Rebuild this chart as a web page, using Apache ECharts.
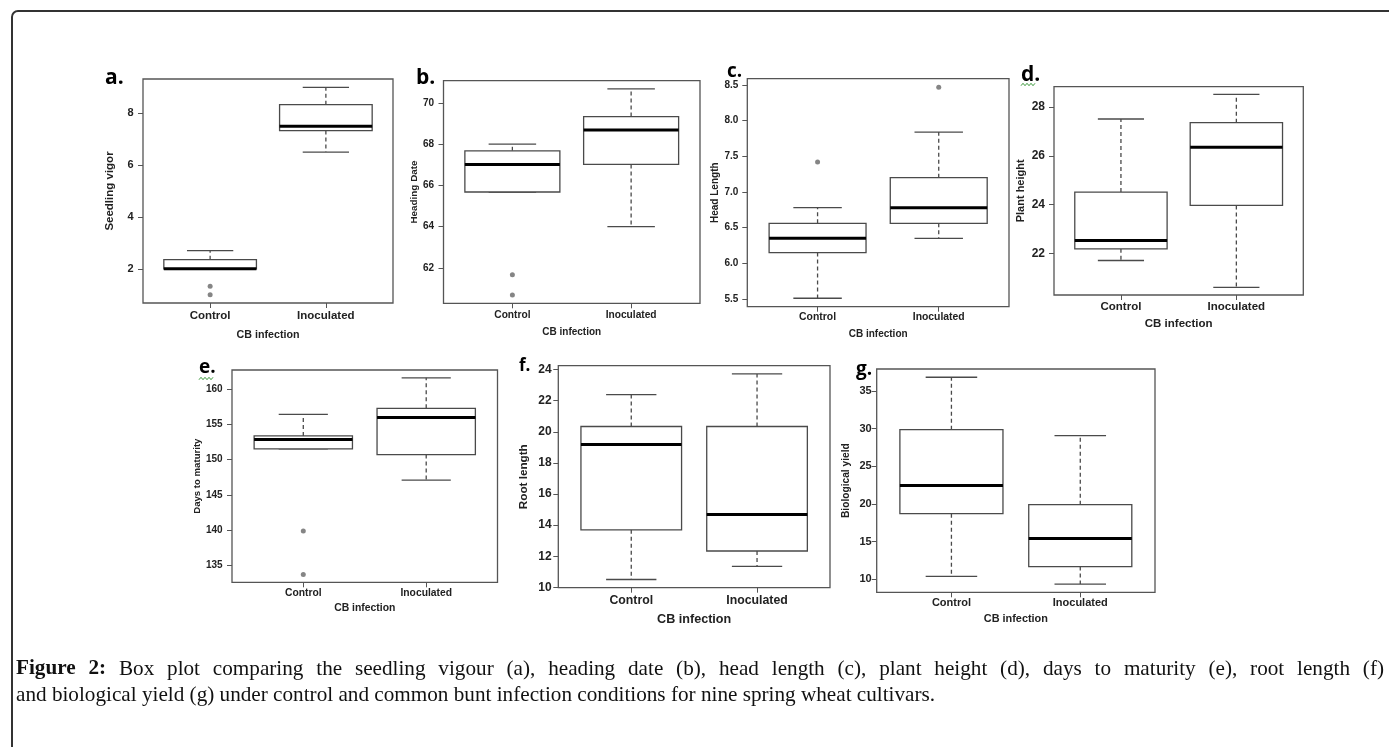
<!DOCTYPE html>
<html>
<head>
<meta charset="utf-8">
<script src="https://cdn.jsdelivr.net/npm/echarts@6/dist/echarts.min.js"></script>
<style>
  html, body { margin: 0; padding: 0; background: #fff; }
  #main { width: 1389px; height: 747px; }
</style>
</head>
<body>
<div id="main"></div>
<script>
// groups on the x axis of every panel
var groups = ["Control", "Inoculated"];

// box summaries per group: [lower whisker, Q1, median, Q3, upper whisker]
var vigorBox = [[2.0, 2.0, 2.0, 2.35, 2.7], [6.5, 7.33, 7.5, 8.33, 9.0]];
var vigorOut = [[1.33, 1.0], []];
var vigorTicks = [2, 4, 6, 8];

var headingBox = [[65.68, 65.68, 67.02, 67.68, 68.0], [64.0, 67.02, 68.69, 69.34, 70.68]];
var headingOut = [[61.66, 60.68], []];
var headingTicks = [62, 64, 66, 68, 70];

var headLenBox = [[5.51, 6.15, 6.35, 6.56, 6.78], [6.35, 6.56, 6.78, 7.2, 7.84]];
var headLenOut = [[7.42], [8.47]];
var headLenTicks = [5.5, 6.0, 6.5, 7.0, 7.5, 8.0, 8.5];

var heightBox = [[21.7, 22.18, 22.52, 24.51, 27.51], [20.6, 23.96, 26.35, 27.36, 28.52]];
var heightOut = [[], []];
var heightTicks = [22, 24, 26, 28];

var maturityBox = [[151.5, 151.5, 152.83, 153.34, 156.38], [147.07, 150.7, 155.96, 157.24, 161.56]];
var maturityOut = [[139.86, 133.72], []];
var maturityTicks = [135, 140, 145, 150, 155, 160];

var rootBox = [[10.51, 13.7, 19.18, 20.34, 22.39], [11.35, 12.34, 14.69, 20.34, 23.72]];
var rootOut = [[], []];
var rootTicks = [10, 12, 14, 16, 18, 20, 22, 24];

var yieldBox = [[10.4, 18.72, 22.46, 29.87, 36.83], [9.38, 11.7, 15.44, 19.92, 29.07]];
var yieldOut = [[], []];
var yieldTicks = [10, 15, 20, 25, 30, 35];

var yTitles = ["Seedling vigor", "Heading Date", "Head Length", "Plant height",
               "Days to maturity", "Root length", "Biological yield"];
var xTitle = "CB infection";
var tags = ["a.", "b.", "c.", "d.", "e.", "f.", "g."];

var captionLead = "Figure 2:";
var caption1 = "Box plot comparing the seedling vigour (a), heading date (b), head length (c), plant height (d), days to maturity (e), root length (f)";
var caption2 = "and biological yield (g) under control and common bunt infection conditions for nine spring wheat cultivars.";

// layout of each panel (pixels)
var layout = [
  { L: 143, T: 79, R: 393, B: 303, fs: 11.5, yfs: 11, nfs: 11.5, xnfs: 10.7, xLab: 316, yMar: 9.5, yName: 110, xName: 335, dec: 0, tx: 105, ty: 80, tfs: 21 },
  { L: 443.5, T: 80.7, R: 700, B: 303.3, fs: 10.2, yfs: 10, nfs: 9.9, xnfs: 10, xLab: 315, yMar: 9.5, yName: 414, xName: 332, dec: 0, tx: 416, ty: 80.5, tfs: 21 },
  { L: 747.3, T: 78.7, R: 1009, B: 306.7, fs: 10.4, yfs: 10, nfs: 10, xnfs: 10, xLab: 317.7, yMar: 9, yName: 717.7, xName: 334, dec: 1, tx: 727, ty: 74, tfs: 19 },
  { L: 1054, T: 86.7, R: 1303.3, B: 295, fs: 11.5, yfs: 12, nfs: 11, xnfs: 11.5, xLab: 306.7, yMar: 9, yName: 1021, xName: 324, dec: 0, tx: 1021, ty: 77, tfs: 21 },
  { L: 232, T: 370, R: 497.5, B: 582.3, fs: 10.3, yfs: 10, nfs: 9.6, xnfs: 10.4, xLab: 593, yMar: 9.4, yName: 202.7, xName: 608.7, dec: 0, tx: 199, ty: 370, tfs: 19 },
  { L: 558.3, T: 365.7, R: 830, B: 587.7, fs: 12.3, yfs: 12, nfs: 11.7, xnfs: 12.6, xLab: 600.7, yMar: 6.6, yName: 524, xName: 619.3, dec: 0, tx: 519, ty: 368, tfs: 17 },
  { L: 876.7, T: 369, R: 1155, B: 592.3, fs: 11, yfs: 11, nfs: 10.2, xnfs: 10.9, xLab: 603.3, yMar: 5, yName: 845.7, xName: 619.3, dec: 0, tx: 856, ty: 372, tfs: 19 }
];

var boxes = [vigorBox, headingBox, headLenBox, heightBox, maturityBox, rootBox, yieldBox];
var outs = [vigorOut, headingOut, headLenOut, heightOut, maturityOut, rootOut, yieldOut];
var ticks = [vigorTicks, headingTicks, headLenTicks, heightTicks, maturityTicks, rootTicks, yieldTicks];

var SANS = '"Liberation Sans", Arial, sans-serif';
var TXT = "#222";
var LINE = "#4a4a4a";

function renderBox(params, api) {
  var x = api.value(0);
  var lo = api.value(1), q1 = api.value(2), med = api.value(3), q3 = api.value(4), hi = api.value(5);
  var half = api.size([0.4, 0])[0];
  var cap = api.size([0.2, 0])[0];
  var cx = api.coord([x, med])[0];
  var yLo = api.coord([x, lo])[1];
  var yQ1 = api.coord([x, q1])[1];
  var yMed = api.coord([x, med])[1];
  var yQ3 = api.coord([x, q3])[1];
  var yHi = api.coord([x, hi])[1];
  var dash = { stroke: LINE, lineWidth: 1.3, lineDash: [4, 3] };
  var solid = { stroke: LINE, lineWidth: 1.3 };
  function seg(x1, y1, x2, y2, st) {
    return { type: "line", shape: { x1: x1, y1: y1, x2: x2, y2: y2 }, style: st };
  }
  return {
    type: "group",
    children: [
      seg(cx, yQ3, cx, yHi, dash),
      seg(cx, yQ1, cx, yLo, dash),
      seg(cx - cap, yHi, cx + cap, yHi, solid),
      seg(cx - cap, yLo, cx + cap, yLo, solid),
      { type: "rect", shape: { x: cx - half, y: yQ3, width: 2 * half, height: yQ1 - yQ3 },
        style: { fill: "#fff", stroke: LINE, lineWidth: 1.3 } },
      seg(cx - half, yMed, cx + half, yMed, { stroke: "#000", lineWidth: 3 })
    ]
  };
}

var grids = [], xAxes = [], yAxes = [], series = [], graphics = [];

layout.forEach(function (p, i) {
  var box = boxes[i];
  var all = [];
  box.forEach(function (b) { all = all.concat(b); });
  outs[i].forEach(function (o) { all = all.concat(o); });
  var lo = Math.min.apply(null, all), hi = Math.max.apply(null, all);
  var pad = (hi - lo) * 0.04;

  grids.push({ left: p.L, top: p.T, width: p.R - p.L, height: p.B - p.T,
    show: true, borderColor: "#555", borderWidth: 1.3, backgroundColor: "transparent" });

  xAxes.push({
    gridIndex: i, type: "value", min: 0.42, max: 2.58,
    axisLine: { show: false },
    splitLine: { show: false },
    axisTick: { show: true, length: 5, customValues: [1, 2], lineStyle: { color: "#555" } },
    axisLabel: { customValues: [1, 2], margin: p.xLab - p.B - p.fs / 2,
      fontFamily: SANS, fontWeight: "bold", fontSize: p.fs, color: TXT,
      formatter: function (v) { return groups[Math.round(v) - 1]; } },
    name: xTitle, nameLocation: "middle", nameGap: p.xName - p.B - p.xnfs / 2,
    nameTextStyle: { fontFamily: SANS, fontWeight: "bold", fontSize: p.xnfs, color: TXT }
  });

  yAxes.push({
    gridIndex: i, type: "value", min: lo - pad, max: hi + pad,
    axisLine: { show: false },
    splitLine: { show: false },
    axisTick: { show: true, length: 5, customValues: ticks[i], lineStyle: { color: "#555" } },
    axisLabel: { customValues: ticks[i], margin: p.yMar,
      fontFamily: SANS, fontWeight: "bold", fontSize: p.yfs, color: TXT,
      formatter: (function (d) { return function (v) { return v.toFixed(d); }; })(p.dec) },
    name: yTitles[i], nameLocation: "middle", nameRotate: 90,
    nameGap: p.L - p.yName - p.nfs / 2,
    nameTextStyle: { fontFamily: SANS, fontWeight: "bold", fontSize: p.nfs, color: TXT }
  });

  series.push({
    type: "custom", xAxisIndex: i, yAxisIndex: i,
    renderItem: renderBox,
    encode: { x: 0, y: [1, 2, 3, 4, 5] },
    data: box.map(function (b, g) { return [g + 1].concat(b); }),
    z: 2
  });

  var pts = [];
  outs[i].forEach(function (o, g) { o.forEach(function (v) { pts.push([g + 1, v]); }); });
  series.push({
    type: "scatter", xAxisIndex: i, yAxisIndex: i, data: pts,
    symbol: "circle", symbolSize: 5, itemStyle: { color: "#666" }, z: 3
  });

  // panel letter
  graphics.push({
    type: "text", x: p.tx, y: p.ty - 2, z: 10,
    style: { text: tags[i], fontFamily: '"Open Sans", "Noto Sans", sans-serif', fontWeight: "bold",
      fontSize: p.tfs, fill: "#000", verticalAlign: "middle", align: "left" }
  });
});

// spell-check squiggles under d. and e.
function squiggle(x0, y0, n) {
  var pts = [];
  for (var k = 0; k <= n; k++) pts.push([x0 + k * 2, y0 + (k % 2 ? -1.2 : 1.2)]);
  return { type: "polyline", shape: { points: pts }, style: { stroke: "#3c9a3c", lineWidth: 1, fill: null }, z: 10 };
}
graphics.push(squiggle(1021, 84.5, 7));
graphics.push(squiggle(199, 378.5, 7));

// outer frame
graphics.push({ type: "rect", shape: { x: 12, y: 11, width: 1420, height: 800, r: 6 },
  style: { fill: null, stroke: "#333", lineWidth: 2 }, z: 0 });

// caption: first line justified between the margins, second line left aligned
var SERIF = '"Liberation Serif", "Times New Roman", serif';
var CFS = 21.2;
var CX0 = 16, CX1 = 1384;
var measure = document.createElement("canvas").getContext("2d");
var words = captionLead.split(" ").map(function (w) { return { t: w, b: true }; })
  .concat(caption1.split(" ").map(function (w) { return { t: w, b: false }; }));
var total = 0;
words.forEach(function (w) {
  measure.font = (w.b ? "bold " : "") + CFS + "px " + SERIF;
  w.w = measure.measureText(w.t).width;
  total += w.w;
});
var gap = (CX1 - CX0 - total) / (words.length - 1);
var cx = CX0;
words.forEach(function (w) {
  graphics.push({
    type: "text", x: cx, y: 669, z: 10,
    style: { text: w.t, fontFamily: SERIF, fontSize: CFS, fontWeight: w.b ? "bold" : "normal",
      fill: "#111", verticalAlign: "middle" }
  });
  cx += w.w + gap;
});
graphics.push({
  type: "text", x: CX0, y: 695, z: 10,
  style: { text: caption2, fontFamily: SERIF, fontSize: CFS, fill: "#111", verticalAlign: "middle" }
});

var chart = echarts.init(document.getElementById("main"));
chart.setOption({
  animation: false,
  backgroundColor: "#fff",
  grid: grids,
  xAxis: xAxes,
  yAxis: yAxes,
  series: series,
  graphic: graphics
});
</script>
</body>
</html>
